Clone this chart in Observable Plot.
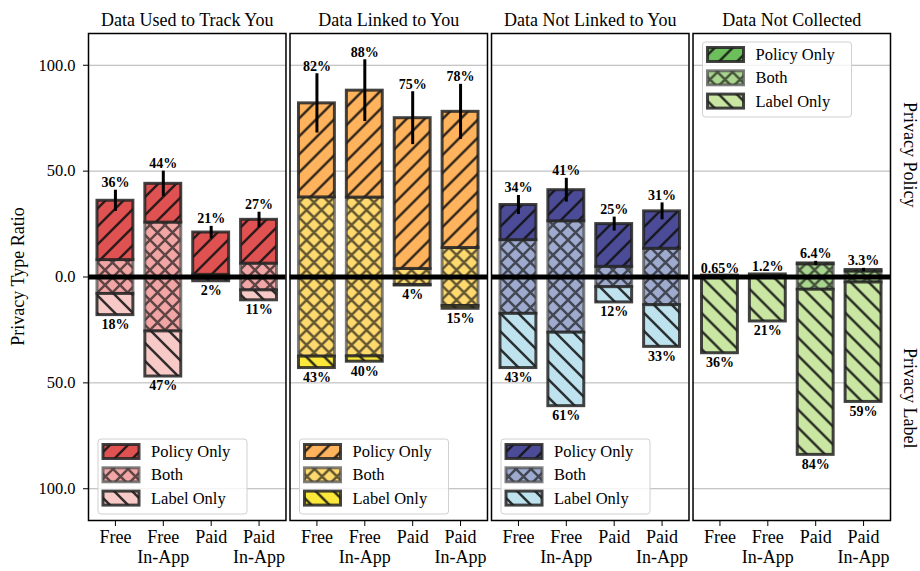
<!DOCTYPE html>
<html>
<head>
<meta charset="utf-8">
<script src="https://cdn.jsdelivr.net/npm/d3@7"></script>
<script src="https://cdn.jsdelivr.net/npm/@observablehq/plot@0.6"></script>
<style>
  body { margin: 0; background: #fff; }
  #chart svg { font-family: "Liberation Serif", "DejaVu Serif", serif; }
  g[aria-label="fx-axis tick label"] { font-size: 18px; }
  g[aria-label="x-axis tick label"] { font-size: 18px; }
  g[aria-label="y-axis tick label"] { font-size: 16.5px; }
</style>
</head>
<body>
<div id="chart"></div>
<script>
// Privacy data types, split by pricing model of the app
const categories = ["Data Used to Track You", "Data Linked to You", "Data Not Linked to You", "Data Not Collected"];
const plans = ["Free", "Free\nIn-App", "Paid", "Paid\nIn-App"];
const segments = ["Policy Only", "Both", "Label Only"];

// Share (%) of apps declaring the type in the privacy policy (Policy Only + Both)
const policyShare = [
  [36, 44, 21, 27],
  [82, 88, 75, 78],
  [34, 41, 25, 31],
  [0.65, 1.2, 6.4, 3.3]
];
// Share (%) of apps declaring the type in the privacy label (Both + Label Only)
const labelShare = [
  [18, 47, 2, 11],
  [43, 40, 4, 15],
  [43, 61, 12, 33],
  [36, 21, 84, 59]
];
// Share (%) declared in both the policy and the label
const bothShare = [
  [8, 25.7, 1, 6.3],
  [37.6, 37.5, 3.8, 13.7],
  [17.4, 26.3, 4.8, 13.3],
  [0.1, 0.4, 6, 2.6]
];
// Spread of the policy share
const policyError = [
  [5, 6, 2.9, 3.6],
  [14, 14.6, 12.5, 13],
  [4.5, 5.6, 3.3, 4],
  [0, 0, 1, 0.8]
];
// Fill colours per category: [Policy Only, Both, Label Only]
const palettes = [
  ["#e05252", "#f2a5a5", "#f7cac7"],
  ["#ffb35c", "#fdd96e", "#fbe83a"],
  ["#4b4b97", "#9eabcf", "#bfe3ee"],
  ["#6cbf5a", "#a9d58e", "#c9e7a3"]
];

const rows = [];
categories.forEach((category, ci) => plans.forEach((plan, pi) => {
  rows.push({
    category, ci, plan,
    policy: policyShare[ci][pi],
    label: labelShare[ci][pi],
    both: bothShare[ci][pi],
    err: policyError[ci][pi]
  });
}));

const span = {
  "Policy Only": d => [d.both, d.policy],
  "Both": d => [-d.both, d.both],
  "Label Only": d => [-d.label, -d.both]
};
const edge = {
  "Policy Only": {stroke: "#222", strokeOpacity: 0.85},
  "Both": {stroke: "#4a4a4a", strokeOpacity: 0.7},
  "Label Only": {stroke: "#222", strokeOpacity: 0.85}
};

const barMarks = ["Both", "Policy Only", "Label Only"].flatMap(seg =>
  categories.map((category, ci) =>
    Plot.barY(rows.filter(d => d.ci === ci), {
      x: "plan",
      fx: "category",
      y1: d => span[seg](d)[0],
      y2: d => span[seg](d)[1],
      fill: `url(#hatch-${ci}-${segments.indexOf(seg)})`,
      strokeWidth: 3,
      ...edge[seg]
    })
  )
);

const chart = Plot.plot({
  width: 920,
  height: 571,
  marginTop: 33,
  marginBottom: 51,
  marginLeft: 88,
  marginRight: 30,
  fx: {domain: categories, paddingInner: 0.02, paddingOuter: 0, round: false},
  x: {domain: plans, paddingInner: 0.25, paddingOuter: 0.1875, round: false},
  y: {domain: [-115, 115]},
  style: {fontFamily: "'Liberation Serif', serif", fontSize: "16px", color: "black", background: "white"},
  marks: [
    Plot.ruleY([-100, -50, 50, 100], {stroke: "#b3b3b3", strokeWidth: 1}),
    ...barMarks,
    Plot.ruleX(rows.filter(d => d.err > 0), {
      x: "plan", fx: "category",
      y1: d => d.policy - d.err, y2: d => d.policy + d.err,
      stroke: "black", strokeWidth: 3
    }),
    Plot.ruleY([0], {stroke: "black", strokeWidth: 5}),
    Plot.text(rows, {
      x: "plan", fx: "category",
      y: d => d.policy + d.err,
      text: d => `${d.policy}%`,
      lineAnchor: "bottom", dy: -3,
      fontWeight: "bold", fontSize: 14
    }),
    Plot.text(rows, {
      x: "plan", fx: "category",
      y: d => -d.label,
      text: d => `${d.label}%`,
      lineAnchor: "top", dy: 4,
      fontWeight: "bold", fontSize: 14
    }),
    Plot.frame({stroke: "black", strokeWidth: 1.5}),
    Plot.axisY({
      ticks: [-100, -50, 0, 50, 100],
      tickFormat: d => Math.abs(d).toFixed(1),
      tickSize: 5, tickPadding: 8, label: null
    }),
    Plot.axisX({tickSize: 6, tickPadding: 2, label: null, lineHeight: 1.12}),
    Plot.axisFx({anchor: "top", tickSize: 0, tickPadding: 8, label: null})
  ]
});

const svg = d3.select(chart);

// Hatch patterns: "/" for policy only, "x" for both, "\" for label only
const defs = svg.insert("defs", ":first-child");
palettes.forEach((colors, ci) => {
  segments.forEach((seg, si) => {
    const s = si === 1 ? 15 : 18;
    const h = s / 4;
    const fwd = `M${-h},${h}L${h},${-h}M0,${s}L${s},0M${s - h},${s + h}L${s + h},${s - h}`;
    const back = `M${-h},${s - h}L${h},${s + h}M0,0L${s},${s}M${s - h},${-h}L${s + h},${h}`;
    const p = defs.append("pattern")
      .attr("id", `hatch-${ci}-${si}`)
      .attr("patternUnits", "userSpaceOnUse")
      .attr("width", s).attr("height", s);
    p.append("rect").attr("width", s).attr("height", s).attr("fill", colors[si]);
    p.append("path")
      .attr("d", si === 0 ? fwd : si === 2 ? back : fwd + back)
      .attr("stroke", "#111")
      .attr("stroke-opacity", si === 1 ? 0.65 : 0.85)
      .attr("stroke-width", 2.5)
      .attr("fill", "none");
  });
});

const fxScale = chart.scale("fx");
const yScale = chart.scale("y");
const yTop = yScale.apply(115);
const yBottom = yScale.apply(-115);

// Y axis title
svg.append("text")
  .attr("transform", `translate(18,${yScale.apply(0)}) rotate(-90)`)
  .attr("text-anchor", "middle")
  .attr("dominant-baseline", "central")
  .attr("font-size", 18)
  .text("Privacy Type Ratio");

// Side titles for the two halves
[["Privacy Policy", 57.5], ["Privacy Label", -57.5]].forEach(([t, v]) => {
  svg.append("text")
    .attr("transform", `translate(910,${yScale.apply(v)}) rotate(90)`)
    .attr("text-anchor", "middle")
    .attr("dominant-baseline", "central")
    .attr("font-size", 18)
    .text(t);
});

// One legend per category panel
categories.forEach((category, ci) => {
  const left = fxScale.apply(category) + 10;
  const boxH = 75, boxW = 149;
  const top = ci === 3 ? yTop + 9 : yBottom - 6 - boxH;
  const g = svg.append("g")
    .attr("transform", `translate(${left},${top})`)
    .attr("text-anchor", "start");
  g.append("rect")
    .attr("width", boxW).attr("height", boxH)
    .attr("rx", 3)
    .attr("fill", "white").attr("fill-opacity", 0.8)
    .attr("stroke", "#d0d0d0").attr("stroke-width", 1);
  segments.forEach((seg, si) => {
    const cy = 12.5 + si * 23.3;
    g.append("rect")
      .attr("x", 5).attr("y", cy - 7)
      .attr("width", 36).attr("height", 14)
      .attr("fill", `url(#hatch-${ci}-${si})`)
      .attr("stroke", edge[seg].stroke)
      .attr("stroke-opacity", edge[seg].strokeOpacity)
      .attr("stroke-width", 3);
    g.append("text")
      .attr("x", 53).attr("y", cy)
      .attr("text-anchor", "start")
      .attr("dominant-baseline", "central")
      .attr("font-size", 16.5)
      .text(seg);
  });
});

document.getElementById("chart").append(chart);
</script>
</body>
</html>
